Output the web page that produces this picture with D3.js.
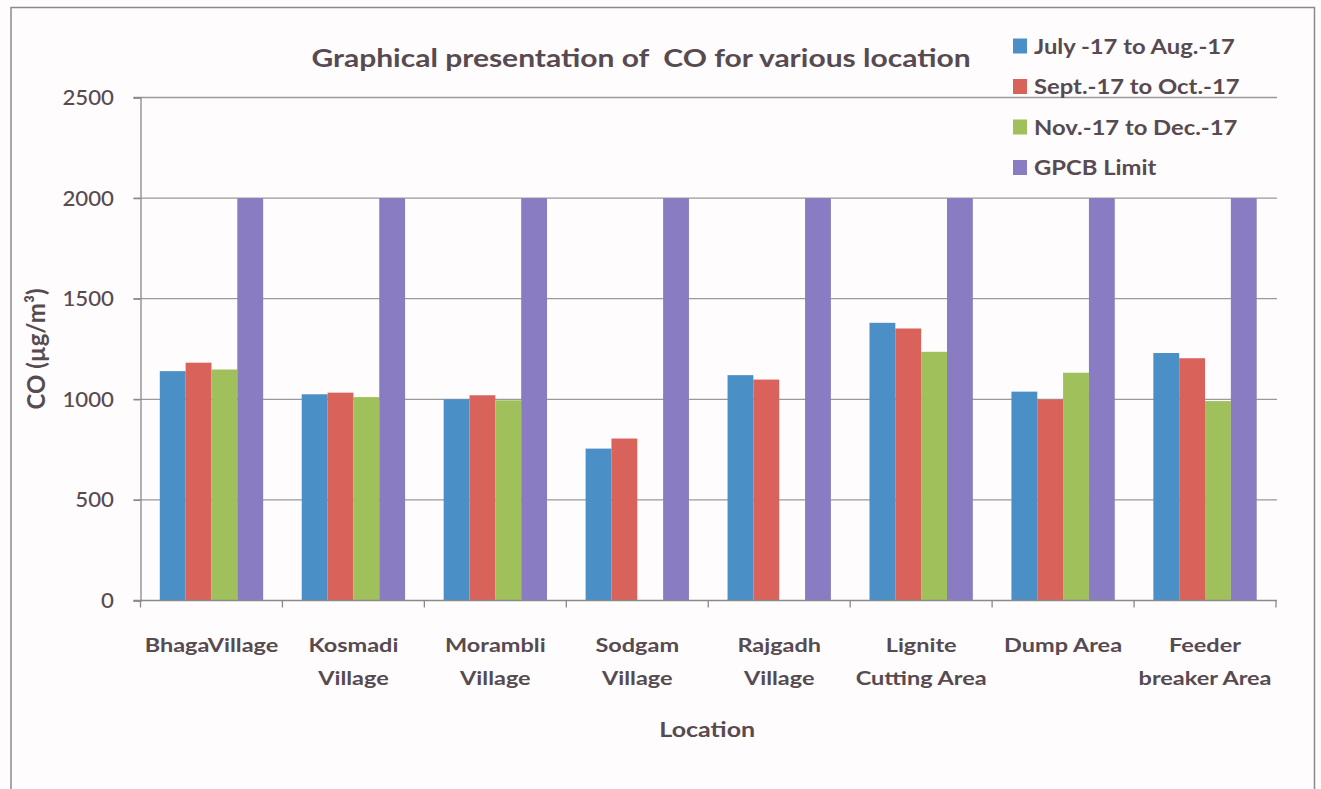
<!DOCTYPE html>
<html>
<head>
<meta charset="utf-8">
<script src="https://cdn.jsdelivr.net/npm/d3@7"></script>
<style>
  html, body { margin: 0; padding: 0; background: #ffffff; }
  svg { display: block; }
</style>
</head>
<body>
<svg id="chart" width="1321" height="789"></svg>
<script>
// ---------- data ----------
const categories = ["BhagaVillage", "Kosmadi\nVillage", "Morambli\nVillage", "Sodgam\nVillage",
                    "Rajgadh\nVillage", "Lignite\nCutting Area", "Dump Area", "Feeder\nbreaker Area"];
const seriesNames = ["July -17 to Aug.-17", "Sept.-17 to Oct.-17", "Nov.-17 to Dec.-17", "GPCB Limit"];
const julyAug   = [1140, 1025, 1000, 755, 1120, 1380, 1038, 1230];
const septOct   = [1182, 1033, 1020, 805, 1098, 1352, 999, 1204];
const novDec    = [1148, 1011, 995, null, null, 1236, 1132, 991];
const gpcbLimit = [2000, 2000, 2000, 2000, 2000, 2000, 2000, 2000];
const yTicks = [0, 500, 1000, 1500, 2000, 2500];
const titleText = "Graphical presentation of  CO for various location";
const yTitle = "CO (µg/m³)";
const xTitle = "Location";

// ---------- styles ----------
const colors = ["#4a8fc6", "#d9625b", "#9fc05a", "#8a7cc2"];
const textColor = "#574a50";
const fontFam = "Lato, 'Open Sans', 'DejaVu Sans', sans-serif";

const seriesValues = [julyAug, septOct, novDec, gpcbLimit];

const svg = d3.select("#chart");
svg.append("rect").attr("x", 0).attr("y", 0).attr("width", 1321).attr("height", 789).attr("fill", "#fefcfc");
// outer chart border
svg.append("rect").attr("x", 11).attr("y", 7.5).attr("width", 1303.5).attr("height", 790)
  .attr("fill", "none").attr("stroke", "#8a8a8a").attr("stroke-width", 1.5);

const plot = { left: 140.5, right: 1276, top: 97.5, bottom: 600.5 };

const x0 = d3.scaleBand().domain(categories).range([plot.left, plot.right]).paddingInner(0).paddingOuter(0);
const x1 = d3.scaleBand().domain(d3.range(seriesNames.length)).range([0, x0.bandwidth()])
  .paddingInner(0).paddingOuter(0.747);
const y = d3.scaleLinear().domain([0, 2500]).range([plot.bottom, plot.top]);

// helper: text stretched horizontally
function stext(parent, x, yy, sx, size, weight, anchor) {
  return parent.append("text")
    .attr("transform", `translate(${x},${yy}) scale(${sx},1)`)
    .attr("text-anchor", anchor)
    .attr("fill", textColor).attr("font-family", fontFam)
    .attr("font-size", size).attr("font-weight", weight);
}

// gridlines
const grid = svg.append("g");
grid.selectAll("line").data(yTicks.filter(d => d > 0)).join("line")
  .attr("x1", plot.left - 7).attr("x2", plot.right + 1)
  .attr("y1", d => y(d)).attr("y2", d => y(d))
  .attr("stroke", "#9a9a9a").attr("stroke-width", 1.3);

// y axis
const yAxis = svg.append("g").attr("transform", `translate(${plot.left},0)`)
  .call(d3.axisLeft(y).tickValues(yTicks).tickFormat(d3.format("d")).tickSize(7).tickPadding(8));
yAxis.select(".domain").attr("stroke", "#8a8a8a").attr("stroke-width", 1.3);
yAxis.selectAll(".tick line").attr("stroke", "#8a8a8a").attr("stroke-width", 1.3);
yAxis.selectAll(".tick text").remove();
yTicks.forEach(t => {
  stext(svg, 114, y(t) + 7.5, 1.06, 21, 500, "end").text(d3.format("d")(t));
});

// bars
const groups = svg.append("g").selectAll("g").data(categories).join("g")
  .attr("transform", d => `translate(${x0(d)},0)`);
groups.selectAll("rect")
  .data((d, i) => seriesValues.map((s, k) => ({ k, v: s[i] })).filter(e => e.v != null))
  .join("rect")
  .attr("x", e => x1(e.k))
  .attr("width", x1.bandwidth())
  .attr("y", e => y(e.v))
  .attr("height", e => y(0) - y(e.v))
  .attr("fill", e => colors[e.k]);

// x axis
const xAxisG = svg.append("g");
xAxisG.append("line").attr("x1", plot.left - 7).attr("x2", plot.right + 1)
  .attr("y1", plot.bottom).attr("y2", plot.bottom).attr("stroke", "#8a8a8a").attr("stroke-width", 1.3);
const boundaries = categories.map(c => x0(c)).concat([plot.right]);
xAxisG.selectAll("line.tk").data(boundaries).join("line").attr("class", "tk")
  .attr("x1", d => d).attr("x2", d => d).attr("y1", plot.bottom).attr("y2", plot.bottom + 7)
  .attr("stroke", "#8a8a8a").attr("stroke-width", 1.3);

categories.forEach(c => {
  const t = stext(svg, x0(c) + x0.bandwidth() / 2, 652, 1.27, 18.5, 700, "middle");
  c.split("\n").forEach((l, i) => {
    t.append("tspan").attr("x", 0).attr("dy", i === 0 ? 0 : 33).text(l);
  });
});

// axis titles
stext(svg, (plot.left + plot.right) / 2 - 1, 737, 1.25, 20, 700, "middle").text(xTitle);
svg.append("text").attr("transform", "translate(45,349) rotate(-90)")
  .attr("text-anchor", "middle").attr("fill", textColor).attr("font-family", fontFam)
  .attr("font-size", 24).attr("font-weight", 700).text(yTitle);

// title
stext(svg, 641, 67, 1.25, 24, 700, "middle").style("white-space", "pre").text(titleText);

// legend
const lg = svg.append("g").selectAll("g").data(seriesNames).join("g")
  .attr("transform", (d, i) => `translate(1013, ${46 + i * 40.5})`);
lg.append("rect").attr("x", 0).attr("y", -7.5).attr("width", 14).attr("height", 15)
  .attr("fill", (d, i) => colors[i]);
lg.each(function (d) {
  stext(d3.select(this), 21, 7.5, 1.19, 20, 700, "start").text(d);
});
</script>
</body>
</html>
